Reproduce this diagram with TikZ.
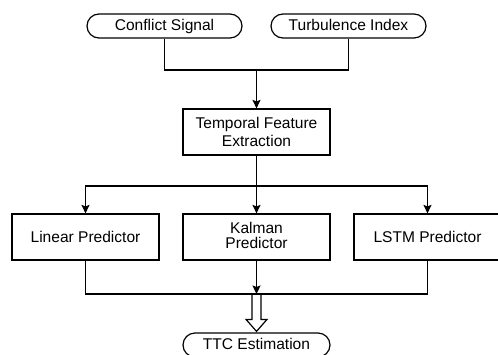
\documentclass[tikz,border=0pt]{standalone}
\usepackage{fontspec}
\setmainfont{Liberation Sans}
\usepackage{tikz}
\usetikzlibrary{
    positioning,           % Relative positioning
    arrows.meta,           % Modern arrow tips
    calc                   % Coordinate calculations
}

\begin{document}
\begin{tikzpicture}[x=1bp,y=1bp,line width=1.2bp,
    font=\fontsize{15.6}{18}\selectfont,
    >={Stealth[length=8.5bp,width=8bp,inset=1.5bp]},
    inout/.style={draw,rectangle,rounded corners=12bp,minimum width=155bp,minimum height=24bp,inner sep=0pt,text height=11bp,text depth=3bp},
    stage/.style={draw,rectangle,minimum width=147bp,minimum height=46bp,inner sep=0pt,align=center},
    output/.style={draw,rectangle,rounded corners=12bp,minimum width=147bp,minimum height=24bp,inner sep=0pt,text height=11bp,text depth=3bp}]
    \useasboundingbox (0,0) rectangle (498,354);
    % inputs
    \node[inout] (conflict) at (164.5,328) {Conflict Signal};
    \node[inout] (turbulence) at (348.5,328) {Turbulence Index};
    \coordinate (join) at (256.5,284);
    \node[stage] (temporal) at (256.5,222) {Temporal Feature\\Extraction};
    \coordinate (split) at (256.5,168);
    % predictors
    \node[stage] (linear) at (85.5,117) {Linear Predictor};
    \node[stage] (kalman) at (256.5,117) {\raisebox{3bp}{\shortstack{Kalman\\[1bp]Predictor}}};
    \node[stage] (lstm) at (427.5,117) {LSTM Predictor};
    \coordinate (merge) at (256.5,60);
    \node[output] (ttc) at (256.5,9) {TTC Estimation};

    \draw (conflict.south) |- (join) -| (turbulence.south);
    \draw[->] (join) -- (temporal.north);
    \draw (temporal.south) -- (split);
    \draw[->] (split) -| (linear.north);
    \draw[->] (split) -- (kalman.north);
    \draw[->] (split) -| (lstm.north);
    \draw (linear.south) |- (merge) -| (lstm.south);
    \draw[->] (kalman.south) -- (merge);
    % hollow block arrow
    \draw[line join=miter] ($(merge)+(-4.5,0)$) -- ($(ttc.north)+(-4.5,13)$) -- ($(ttc.north)+(-10.5,13)$)
        -- ($(ttc.north)+(0,1)$) -- ($(ttc.north)+(10.5,13)$) -- ($(ttc.north)+(4.5,13)$) -- ($(merge)+(4.5,0)$);
\end{tikzpicture}
\end{document}
